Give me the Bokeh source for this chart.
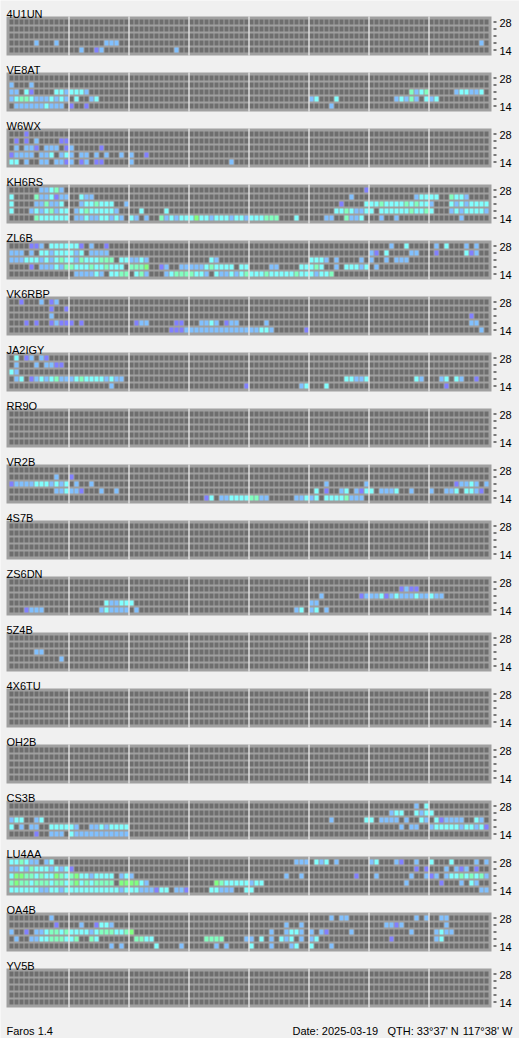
from bokeh.plotting import figure
from bokeh.models import Range1d, ColumnDataSource
from bokeh.embed import file_html
from bokeh.resources import INLINE
from bokeh.core.properties import value

# ---------------- data ----------------
BANDS = [28, 24, 21, 18, 14]            # rows, top to bottom (MHz)
BAND_LABELS = ["28", "", "", "", "14"]
N_SLOTS = 96                            # 15-minute slots over 24 h
SLOTS_PER_BLOCK = 12                    # 3-hour blocks

BEACONS = ["4U1UN", "VE8AT", "W6WX", "KH6RS", "ZL6B", "VK6RBP", "JA2IGY", "RR9O",
           "VR2B", "4S7B", "ZS6DN", "5Z4B", "4X6TU", "OH2B", "CS3B", "LU4AA",
           "OA4B", "YV5B"]

# signal level codes: p weakest ... g strongest
LEVEL_COLORS = {"p": "#8080ff", "b": "#80c0ff", "c": "#80ffff", "m": "#80ffc0", "g": "#80ff80"}
EMPTY_COLOR = "#6e6e6e"
FRAME_COLOR = "#a0a0a0"

# heard slots per band: "slot+level" tokens
B_4U1UN = {18: "5b 9b 19b 20b 21b 94b",
           14: "14b 17p 18b 33b"}
B_VE8AT = {24: "0b 4b",
           21: "0b 1b 3c 4p 9c 10c 11b 12c 13c 14c 15b 80m 81b 82c 83m 89b 90c 91c 92b 93b 94c",
           18: "0b 1c 2m 3m 4c 5b 6b 7b 8c 9b 10c 11b 13c 16b 17c 60b 61c 65c 77b 78c 79b 80m 81b 83c 84b 85c",
           14: "1b 2b 3b 4b 5b 6b 7c 8b 9b 10b 12p 15p 64b"}
B_W6WX = {28: "3p",
          24: "1p 3p 5b 10p 11p",
          21: "1b 3b 4b 5p 7b 8b 9b 11p 12b 18p",
          18: "0p 1b 2b 3b 4b 6b 7b 8c 10b 11c 12b 14b 15b 17b 19b 22b 24b 27p",
          14: "0c 1c 3b 6b 7b 9b 10b 11p 12b 14p 15b 17p 18p 24b 44b"}
B_KH6RS = {28: "6b 7b 8c 9m 10b 71p",
           24: "0c 5m 6b 7b 8c 9p 10b 11b 14c 15b 16b 68b 81b 82c 83c 84c 85c 88m 89c 90c 91b",
           21: "0c 5b 6b 7m 8b 9b 10c 14b 15c 16c 17m 18c 19c 20c 23b 66p 71c 72c 73c 74m 75c 76c 77c 78c 79m 80c 81m 82c 83c 84b 88c 89b 90c 91b 92c 93c 94c 95c",
           18: "0c 4b 5c 6b 7c 8m 9b 10c 11c 13b 14c 15m 16c 17c 18c 19c 20c 21b 26c 31c 65c 66c 67m 68c 69b 70b 71c 72c 74c 75c 76c 77c 78c 79c 80m 81c 82c 83m 84c 88b 89c 90b 91c 92c 93c 94c 95b",
           14: "5m 6c 7c 8c 9c 10c 11c 13b 14b 15c 16b 17b 18c 19c 20b 21c 22b 24c 25b 27b 30m 31b 32c 33b 34c 35c 36c 37g 38c 39c 40b 41c 42c 43c 44b 45c 46c 47b 48c 49c 50c 51m 52m 53m 57c 63b 64b 67m 68b 69b 70c 74b 77b 90b"}
B_ZL6B = {28: "4p 5p 6b 8c 9c 10c 11c 12c 13c 14p 16b 19p 76b 79c 85b 87c 91b 93b",
          24: "0b 1b 2b 4b 6c 7c 8b 9c 10c 11c 12c 13b 14c 16b 17b 18b 19b 72b 73p 75c 80b 81b 85p 91c 92p 93b",
          21: "0b 1b 2b 3c 4c 5c 6b 7c 8b 9c 10m 11c 12c 13b 14m 15c 16c 17c 18m 19m 20m 22c 23c 24b 25b 26c 27b 40c 41b 60c 61c 62c 63b 65b 70b 72b 75b 77b 78b 79b",
          18: "4p 6b 7b 8b 9c 10b 11m 12m 13c 14c 15c 16m 17c 18c 19m 20c 21c 22c 24m 25m 26m 27g 30p 31b 34b 35b 36b 37b 38b 39c 40m 41c 42c 43c 44c 46c 47c 52b 53b 58c 59c 60c 61m 62c 65b 67c 68c 69c 70b 71c 73b",
          14: "13b 14b 15b 16b 17c 18b 20c 21c 22m 23m 25c 26m 27b 31b 32c 33m 34m 35m 36m 37c 38c 39b 41c 42b 43b 44c 45b 46c 47m 48c 49c 50c 51m 52c 53c 54c 55c 56c 57m 58c 59c 60c 61b 62c 63c 64m"}
B_VK6RBP = {28: "2p 6b 8p 9b",
            24: "8p 11p",
            21: "8b 92p",
            18: "3p 5p 8p 9b 10p 11p 12p 14p 25p 26b 27b 33p 34p 38b 39b 40c 41b 43p 44b 45b 51b 92b 93b",
            14: "32p 33p 34p 35b 36b 37b 38b 39b 40b 41b 42b 43b 44b 45b 46b 47b 48b 49b 50c 51c 52b 59p 94b"}
B_JA2IGY = {28: "1c 3p 4b 6b 7p",
            24: "1b 5b 7b 8b 9p 10p",
            21: "0c 1b",
            18: "1b 2c 4p 5b 6c 7b 8c 9m 10b 11b 12b 13c 14m 15c 16c 17c 18c 19b 20c 21b 22b 67c 68c 69b 70b 71c 81c 82b 86b 87c 89c 90b 93p",
            14: "20b 47p 58b 59c 63c 87p"}
B_RR9O = {}
B_VR2B = {24: "9b 12p",
          21: "0p 1b 2b 3b 4b 5c 6c 7c 8b 9c 10b 11c 13b 16b 63b 71b 89p 90b 91b 92c 93b 95b",
          18: "9b 10b 11c 12b 13b 14p 18b 21b 61c 63p 66b 67c 69b 70p 71c 72c 74b 75b 76b 77c 80b 84b 87b 88b 89c 91c 92c 93b 94p",
          14: "39p 40c 42b 43b 44c 45c 46c 47c 48m 49m 50b 51b 57b 58b 59c 60b 61c 63c 64c 65c 66c 67m 68b 69b 70b"}
B_4S7B = {}
B_ZS6DN = {24: "78p 79b 80p 81p",
           21: "62b 70p 71b 72b 73b 74c 75p 76b 77c 78b 79b 80b 81c 82b 83b 84c 85b 86b",
           18: "19c 20b 21b 22c 23c 24c 60b 61b",
           14: "3p 4b 5b 6b 18b 19c 20b 21b 22b 23b 25b 57b 58c 60b 61c 63b"}
B_5Z4B = {21: "5b 6b",
          18: "10b"}
B_4X6TU = {}
B_OH2B = {}
B_CS3B = {28: "81b 83c",
          24: "76b 77c 78c 81c 82b 83c 84c",
          21: "0b 1c 2c 5b 6c 64b 71c 72c 74b 75b 76b 77b 79b 82c 83b 85c 86p 87b 88b 89b 90b 93c 94b",
          18: "0c 2b 4b 5b 8c 9c 10c 11c 12c 13b 16b 17b 18c 19b 20c 21c 22c 23c 78b 80b 81b 84b 85c 86c 87c 88c 89c 90b 91c 92c 93b 94c 95p",
          14: "5p 8b 9b 10b 12c 13b 14b 15b 16b 17b 18b 19b 20b 21b 22b 23b"}
B_LU4AA = {28: "0c 1c 2m 3c 4b 5b 7b 8c 57b 58b 59b 61c 62b 63c 65b 72b 73c 77b 78p 81b 84c 88c 93b 95b",
           24: "0b 1b 2c 3b 4m 5c 6c 7c 8b 9c 10b 11c 12p 81p 83p 87b 89b 90p 91b 93p",
           21: "0c 1g 2g 3m 4m 5c 6m 7c 8c 9g 10m 11c 12m 13g 14c 15c 16b 17c 18c 19c 20c 22b 23c 24b 55b 58b 69p 73b 80b 83b 84p 85b 87b 88c 89c 90m 91c 92m 93c 94m 95b",
           18: "0m 1g 2m 3m 4c 5m 6m 7m 8c 9m 10m 11c 12m 13g 14c 15m 16c 17m 18m 19m 20m 22g 23g 24g 25g 26c 27b 41g 42m 43c 44c 45c 46c 47c 48b 49c 50c 79b 86p 90b 92c 93b",
           14: "0c 1c 2c 3c 4c 5c 6b 7b 8c 9c 10b 11c 12c 13c 14c 15c 16c 17c 18c 19c 20c 21c 22b 23c 24c 25c 26b 27b 28b 29p 30c 31c 33b 34b 35p 40c 41c 42b 43b 44b 47c 48c 94b 95b"}
B_OA4B = {28: "8b 64b 66b 67b 81b 83b 86b 87b",
          24: "9p 14b 17p 18c 19c 20b 55b 58b 75b 76b 77p 78b 87b",
          21: "0b 3p 5b 6b 7c 8m 9m 10c 11m 12c 13c 14c 15c 16b 17c 18m 19m 20m 21c 22c 23m 24g 52b 55b 56c 57c 58b 60b 62b 63p 68b 80b 85b 86c 87b 88b",
          18: "1b 4b 5b 6c 7c 8m 9m 10m 11c 12c 13m 16m 17c 25m 26m 27c 28c 39m 40m 41m 42m 47b 48b 50c 52b 54c 55b 56c 58b 60b 61c 76p 85b 86c",
          14: "20b 22b 29c 34b 41b 43b 48c 52b 56b 57c 60c 64b"}
B_YV5B = {}

SIGNALS = [B_4U1UN, B_VE8AT, B_W6WX, B_KH6RS, B_ZL6B, B_VK6RBP, B_JA2IGY, B_RR9O,
           B_VR2B, B_4S7B, B_ZS6DN, B_5Z4B, B_4X6TU, B_OH2B, B_CS3B, B_LU4AA,
           B_OA4B, B_YV5B]

FOOTER_LEFT = "Faros 1.4"
FOOTER_DATE = "Date: 2025-03-19"
FOOTER_QTH = "QTH: 33°37' N"
FOOTER_LON = "117°38' W"

# ---------------- layout ----------------
W, H = 519, 1038
PX = 5.0                      # pixels per slot
X0 = 11.0                     # pixel centre of slot 0
PANEL_TOP0, PANEL_PITCH = 16, 56
FRAME_H = 39
ROW_OFF = [3, 10, 17, 24, 31]
CELL_H = 5
FONT = value("Liberation Sans")
FS = "11px"


def parse(spec):
    return {int(t[:-1]): t[-1] for t in spec.split()}


def panel_top(p):
    return PANEL_TOP0 + PANEL_PITCH * p


p = figure(width=W, height=H, output_backend="svg", toolbar_location=None,
           x_range=Range1d(-X0 / PX, (W - X0) / PX), y_range=Range1d(H, 0),
           min_border=0, background_fill_color="#f0f0f0", border_fill_color="#f0f0f0")
p.axis.visible = False
p.grid.visible = False
p.outline_line_color = None

fr = dict(left=[], right=[], top=[], bottom=[])
cells = dict(left=[], right=[], top=[], bottom=[], color=[])
seps = dict(x0=[], x1=[], y0=[], y1=[])
ticks = dict(x0=[], x1=[], y0=[], y1=[])
blab = dict(x=[], y=[], text=[])
alab = dict(x=[], y=[], text=[])

for pi, (name, sig) in enumerate(zip(BEACONS, SIGNALS)):
    top = panel_top(pi)
    fr["left"].append(-1); fr["right"].append(N_SLOTS)
    fr["top"].append(top); fr["bottom"].append(top + FRAME_H)
    blab["x"].append(-1); blab["y"].append(top - 3); blab["text"].append(name)
    for k in range(1, N_SLOTS // SLOTS_PER_BLOCK):
        xs = k * SLOTS_PER_BLOCK - 0.5
        seps["x0"].append(xs); seps["x1"].append(xs)
        seps["y0"].append(top); seps["y1"].append(top + FRAME_H)
    for r, band in enumerate(BANDS):
        heard = parse(sig.get(band, ""))
        ct = top + ROW_OFF[r]
        for i in range(N_SLOTS):
            cells["left"].append(i - 0.4); cells["right"].append(i + 0.4)
            cells["top"].append(ct); cells["bottom"].append(ct + CELL_H)
            cells["color"].append(LEVEL_COLORS[heard[i]] if i in heard else EMPTY_COLOR)
        yc = ct + CELL_H / 2
        ticks["x0"].append(N_SLOTS + 0.4); ticks["x1"].append(N_SLOTS + 1.0)
        ticks["y0"].append(yc); ticks["y1"].append(yc)
        if BAND_LABELS[r]:
            alab["x"].append(N_SLOTS + 1.6); alab["y"].append(yc + 0.5); alab["text"].append(BAND_LABELS[r])

p.quad(source=ColumnDataSource(fr), left="left", right="right", top="top", bottom="bottom",
       fill_color=FRAME_COLOR, line_color=None)
p.quad(source=ColumnDataSource(cells), left="left", right="right", top="top", bottom="bottom",
       fill_color="color", line_color=None)
p.segment(source=ColumnDataSource(seps), x0="x0", x1="x1", y0="y0", y1="y1",
          line_color="white", line_width=1)
p.segment(source=ColumnDataSource(ticks), x0="x0", x1="x1", y0="y0", y1="y1",
          line_color="black", line_width=1)
p.text(source=ColumnDataSource(blab), x="x", y="y", text="text", text_font=FONT,
       text_font_size=FS, text_color="black", text_baseline="alphabetic", text_align="left")
p.text(source=ColumnDataSource(alab), x="x", y="y", text="text", text_font=FONT,
       text_font_size=FS, text_color="black", text_baseline="middle", text_align="left")

fy = panel_top(len(BEACONS) - 1) + FRAME_H + 23
p.text(x=[-1], y=[fy], text=[FOOTER_LEFT], text_font=FONT, text_font_size=FS,
       text_baseline="alphabetic", text_align="left")
p.text(x=[56.2], y=[fy], text=[FOOTER_DATE], text_font=FONT, text_font_size=FS,
       text_baseline="alphabetic", text_align="left")
p.text(x=[75.2], y=[fy], text=[FOOTER_QTH], text_font=FONT, text_font_size=FS,
       text_baseline="alphabetic", text_align="left")
p.text(x=[100.2], y=[fy], text=[FOOTER_LON], text_font=FONT, text_font_size=FS,
       text_baseline="alphabetic", text_align="right")

open("out.html", "w").write(file_html(p, INLINE))
